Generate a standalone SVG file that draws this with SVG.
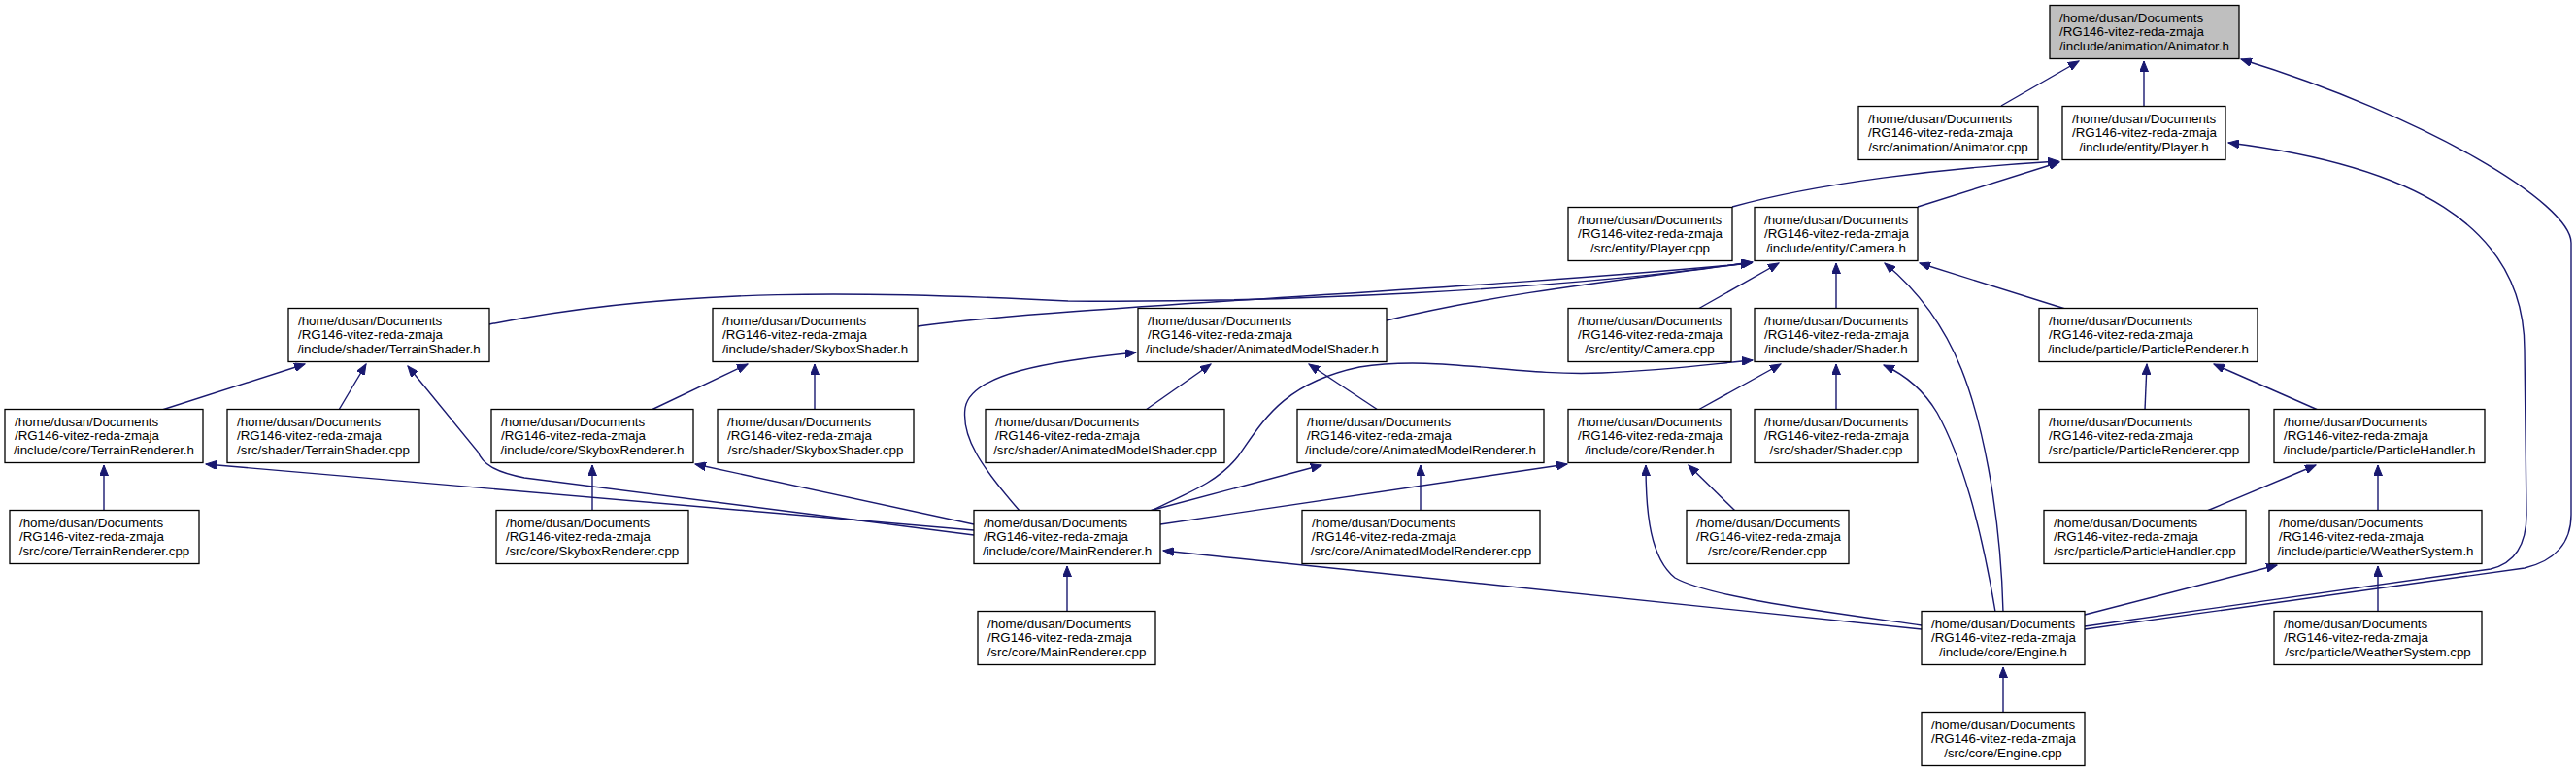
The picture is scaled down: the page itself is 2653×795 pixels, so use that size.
<svg xmlns="http://www.w3.org/2000/svg" width="2653" height="795" viewBox="0 0 2653 795">
<style>
.n rect{fill:#fff;stroke:#000;stroke-width:1.3}
.n.g rect{fill:#bfbfbf}
text{font-family:"Liberation Sans",Arial,Helvetica,sans-serif;font-size:13.33px;fill:#000}
.c{text-anchor:middle}
#edges path{fill:none;stroke:#191970;stroke-width:1.4;marker-end:url(#ah)}
</style>
<defs>
<marker id="ah" markerUnits="userSpaceOnUse" markerWidth="12" markerHeight="9" refX="11" refY="4.5" orient="auto">
<path d="M0,0 L11,4.5 L0,9 z" fill="#191970" stroke="#191970" stroke-width="1"/>
</marker>
</defs>
<rect width="2653" height="795" fill="#fff"/>
<g id="edges">
<path d="M2061,109 L2141,63"/>
<path d="M2208,109 L2208,63"/>
<path d="M2147,648 L2600,585 C2630,578 2648,560 2648,530 L2648,250 C2648,210 2500,120 2308,61"/>
<path d="M1784,213 C1870,189 2000,173 2120,166"/>
<path d="M1975,213 L2121,167"/>
<path d="M2147,645 L2565,586 C2590,580 2602,560 2602,530 L2600,360 C2600,230 2480,170 2295,147"/>
<path d="M504,334 C700,295 900,300 1100,310 C1300,312 1600,300 1804,270"/>
<path d="M945,336 C1100,315 1500,300 1804,271"/>
<path d="M1428,330 C1550,300 1700,285 1805,270"/>
<path d="M1749,318 L1832,271"/>
<path d="M1891,318 L1891,271"/>
<path d="M2127,318 L1977,271"/>
<path d="M2063,630 C2060,520 2040,430 2020,380 C2000,330 1970,295 1941,271"/>
<path d="M167,422 L314,375"/>
<path d="M349,422 L377,375"/>
<path d="M1003,551 L540,492 C510,486 497,478 492,465 L420,377"/>
<path d="M671,422 L770,375"/>
<path d="M839,422 L839,375"/>
<path d="M1050,526 C1010,480 990,450 994,420 C1000,385 1080,372 1170,363"/>
<path d="M1180,422 L1247,375"/>
<path d="M1419,422 L1348,375"/>
<path d="M1185,526 C1230,505 1255,495 1275,470 C1300,435 1320,395 1400,378 C1480,365 1560,388 1650,384 C1720,381 1770,374 1805,371"/>
<path d="M1749,422 L1834,375"/>
<path d="M1891,422 L1891,375"/>
<path d="M2055,630 C2040,540 2020,470 1995,425 C1980,400 1962,386 1940,376"/>
<path d="M2209,422 L2211,375"/>
<path d="M2387,422 L2280,375"/>
<path d="M107,526 L107,479"/>
<path d="M1003,546 L212,478"/>
<path d="M610,526 L610,479"/>
<path d="M1003,540 L716,478"/>
<path d="M1184,526 L1361,479"/>
<path d="M1463,526 L1463,479"/>
<path d="M1195,540 L1614,478"/>
<path d="M1787,526 L1739,479"/>
<path d="M1979,644 C1880,630 1760,615 1725,595 C1700,575 1695,530 1695,479"/>
<path d="M2273,526 L2385,479"/>
<path d="M2449,526 L2449,479"/>
<path d="M1099,630 L1099,583"/>
<path d="M1979,648 L1198,567"/>
<path d="M2147,633 L2345,582"/>
<path d="M2449,630 L2449,583"/>
<path d="M2063,734 L2063,687"/>
</g>
<g id="animh" class="n g"><rect x="2111" y="5.5" width="195" height="55"/><text x="2121" y="22.5">/home/dusan/Documents</text><text x="2121" y="37">/RG146-vitez-reda-zmaja</text><text class="c" x="2208.5" y="51.5">/include/animation/Animator.h</text></g>
<g id="animcpp" class="n"><rect x="1914" y="109.5" width="185" height="55"/><text x="1924" y="126.5">/home/dusan/Documents</text><text x="1924" y="141">/RG146-vitez-reda-zmaja</text><text class="c" x="2006.5" y="155.5">/src/animation/Animator.cpp</text></g>
<g id="playerh" class="n"><rect x="2124" y="109.5" width="168" height="55"/><text x="2134" y="126.5">/home/dusan/Documents</text><text x="2134" y="141">/RG146-vitez-reda-zmaja</text><text class="c" x="2208" y="155.5">/include/entity/Player.h</text></g>
<g id="playercpp" class="n"><rect x="1615" y="213.5" width="169" height="55"/><text x="1625" y="230.5">/home/dusan/Documents</text><text x="1625" y="245">/RG146-vitez-reda-zmaja</text><text class="c" x="1699.5" y="259.5">/src/entity/Player.cpp</text></g>
<g id="camerah" class="n"><rect x="1807" y="213.5" width="168" height="55"/><text x="1817" y="230.5">/home/dusan/Documents</text><text x="1817" y="245">/RG146-vitez-reda-zmaja</text><text class="c" x="1891" y="259.5">/include/entity/Camera.h</text></g>
<g id="terrainshh" class="n"><rect x="297" y="317.5" width="207" height="55"/><text x="307" y="334.5">/home/dusan/Documents</text><text x="307" y="349">/RG146-vitez-reda-zmaja</text><text class="c" x="400.5" y="363.5">/include/shader/TerrainShader.h</text></g>
<g id="skyshh" class="n"><rect x="734" y="317.5" width="211" height="55"/><text x="744" y="334.5">/home/dusan/Documents</text><text x="744" y="349">/RG146-vitez-reda-zmaja</text><text class="c" x="839.5" y="363.5">/include/shader/SkyboxShader.h</text></g>
<g id="amsh" class="n"><rect x="1172" y="317.5" width="256" height="55"/><text x="1182" y="334.5">/home/dusan/Documents</text><text x="1182" y="349">/RG146-vitez-reda-zmaja</text><text class="c" x="1300" y="363.5">/include/shader/AnimatedModelShader.h</text></g>
<g id="cameracpp" class="n"><rect x="1615" y="317.5" width="168" height="55"/><text x="1625" y="334.5">/home/dusan/Documents</text><text x="1625" y="349">/RG146-vitez-reda-zmaja</text><text class="c" x="1699" y="363.5">/src/entity/Camera.cpp</text></g>
<g id="shaderh" class="n"><rect x="1807" y="317.5" width="168" height="55"/><text x="1817" y="334.5">/home/dusan/Documents</text><text x="1817" y="349">/RG146-vitez-reda-zmaja</text><text class="c" x="1891" y="363.5">/include/shader/Shader.h</text></g>
<g id="prh" class="n"><rect x="2100" y="317.5" width="225" height="55"/><text x="2110" y="334.5">/home/dusan/Documents</text><text x="2110" y="349">/RG146-vitez-reda-zmaja</text><text class="c" x="2212.5" y="363.5">/include/particle/ParticleRenderer.h</text></g>
<g id="trh" class="n"><rect x="5" y="421.5" width="204" height="55"/><text x="15" y="438.5">/home/dusan/Documents</text><text x="15" y="453">/RG146-vitez-reda-zmaja</text><text class="c" x="107" y="467.5">/include/core/TerrainRenderer.h</text></g>
<g id="tscpp" class="n"><rect x="234" y="421.5" width="198" height="55"/><text x="244" y="438.5">/home/dusan/Documents</text><text x="244" y="453">/RG146-vitez-reda-zmaja</text><text class="c" x="333" y="467.5">/src/shader/TerrainShader.cpp</text></g>
<g id="srh" class="n"><rect x="506" y="421.5" width="208" height="55"/><text x="516" y="438.5">/home/dusan/Documents</text><text x="516" y="453">/RG146-vitez-reda-zmaja</text><text class="c" x="610" y="467.5">/include/core/SkyboxRenderer.h</text></g>
<g id="sscpp" class="n"><rect x="739" y="421.5" width="202" height="55"/><text x="749" y="438.5">/home/dusan/Documents</text><text x="749" y="453">/RG146-vitez-reda-zmaja</text><text class="c" x="840" y="467.5">/src/shader/SkyboxShader.cpp</text></g>
<g id="amscpp" class="n"><rect x="1015" y="421.5" width="246" height="55"/><text x="1025" y="438.5">/home/dusan/Documents</text><text x="1025" y="453">/RG146-vitez-reda-zmaja</text><text class="c" x="1138" y="467.5">/src/shader/AnimatedModelShader.cpp</text></g>
<g id="amrh" class="n"><rect x="1336" y="421.5" width="254" height="55"/><text x="1346" y="438.5">/home/dusan/Documents</text><text x="1346" y="453">/RG146-vitez-reda-zmaja</text><text class="c" x="1463" y="467.5">/include/core/AnimatedModelRenderer.h</text></g>
<g id="renderh" class="n"><rect x="1615" y="421.5" width="168" height="55"/><text x="1625" y="438.5">/home/dusan/Documents</text><text x="1625" y="453">/RG146-vitez-reda-zmaja</text><text class="c" x="1699" y="467.5">/include/core/Render.h</text></g>
<g id="shadercpp" class="n"><rect x="1807" y="421.5" width="168" height="55"/><text x="1817" y="438.5">/home/dusan/Documents</text><text x="1817" y="453">/RG146-vitez-reda-zmaja</text><text class="c" x="1891" y="467.5">/src/shader/Shader.cpp</text></g>
<g id="prcpp" class="n"><rect x="2100" y="421.5" width="216" height="55"/><text x="2110" y="438.5">/home/dusan/Documents</text><text x="2110" y="453">/RG146-vitez-reda-zmaja</text><text class="c" x="2208" y="467.5">/src/particle/ParticleRenderer.cpp</text></g>
<g id="phh" class="n"><rect x="2342" y="421.5" width="217" height="55"/><text x="2352" y="438.5">/home/dusan/Documents</text><text x="2352" y="453">/RG146-vitez-reda-zmaja</text><text class="c" x="2450.5" y="467.5">/include/particle/ParticleHandler.h</text></g>
<g id="trcpp" class="n"><rect x="10" y="525.5" width="195" height="55"/><text x="20" y="542.5">/home/dusan/Documents</text><text x="20" y="557">/RG146-vitez-reda-zmaja</text><text class="c" x="107.5" y="571.5">/src/core/TerrainRenderer.cpp</text></g>
<g id="srcpp" class="n"><rect x="511" y="525.5" width="198" height="55"/><text x="521" y="542.5">/home/dusan/Documents</text><text x="521" y="557">/RG146-vitez-reda-zmaja</text><text class="c" x="610" y="571.5">/src/core/SkyboxRenderer.cpp</text></g>
<g id="mrh" class="n"><rect x="1003" y="525.5" width="192" height="55"/><text x="1013" y="542.5">/home/dusan/Documents</text><text x="1013" y="557">/RG146-vitez-reda-zmaja</text><text class="c" x="1099" y="571.5">/include/core/MainRenderer.h</text></g>
<g id="amrcpp" class="n"><rect x="1341" y="525.5" width="245" height="55"/><text x="1351" y="542.5">/home/dusan/Documents</text><text x="1351" y="557">/RG146-vitez-reda-zmaja</text><text class="c" x="1463.5" y="571.5">/src/core/AnimatedModelRenderer.cpp</text></g>
<g id="rendercpp" class="n"><rect x="1737" y="525.5" width="167" height="55"/><text x="1747" y="542.5">/home/dusan/Documents</text><text x="1747" y="557">/RG146-vitez-reda-zmaja</text><text class="c" x="1820.5" y="571.5">/src/core/Render.cpp</text></g>
<g id="phcpp" class="n"><rect x="2105" y="525.5" width="208" height="55"/><text x="2115" y="542.5">/home/dusan/Documents</text><text x="2115" y="557">/RG146-vitez-reda-zmaja</text><text class="c" x="2209" y="571.5">/src/particle/ParticleHandler.cpp</text></g>
<g id="wsh" class="n"><rect x="2337" y="525.5" width="219" height="55"/><text x="2347" y="542.5">/home/dusan/Documents</text><text x="2347" y="557">/RG146-vitez-reda-zmaja</text><text class="c" x="2446.5" y="571.5">/include/particle/WeatherSystem.h</text></g>
<g id="mrcpp" class="n"><rect x="1007" y="629.5" width="183" height="55"/><text x="1017" y="646.5">/home/dusan/Documents</text><text x="1017" y="661">/RG146-vitez-reda-zmaja</text><text class="c" x="1098.5" y="675.5">/src/core/MainRenderer.cpp</text></g>
<g id="engineh" class="n"><rect x="1979" y="629.5" width="168" height="55"/><text x="1989" y="646.5">/home/dusan/Documents</text><text x="1989" y="661">/RG146-vitez-reda-zmaja</text><text class="c" x="2063" y="675.5">/include/core/Engine.h</text></g>
<g id="wscpp" class="n"><rect x="2342" y="629.5" width="214" height="55"/><text x="2352" y="646.5">/home/dusan/Documents</text><text x="2352" y="661">/RG146-vitez-reda-zmaja</text><text class="c" x="2449" y="675.5">/src/particle/WeatherSystem.cpp</text></g>
<g id="enginecpp" class="n"><rect x="1979" y="733.5" width="168" height="55"/><text x="1989" y="750.5">/home/dusan/Documents</text><text x="1989" y="765">/RG146-vitez-reda-zmaja</text><text class="c" x="2063" y="779.5">/src/core/Engine.cpp</text></g>
</svg>
